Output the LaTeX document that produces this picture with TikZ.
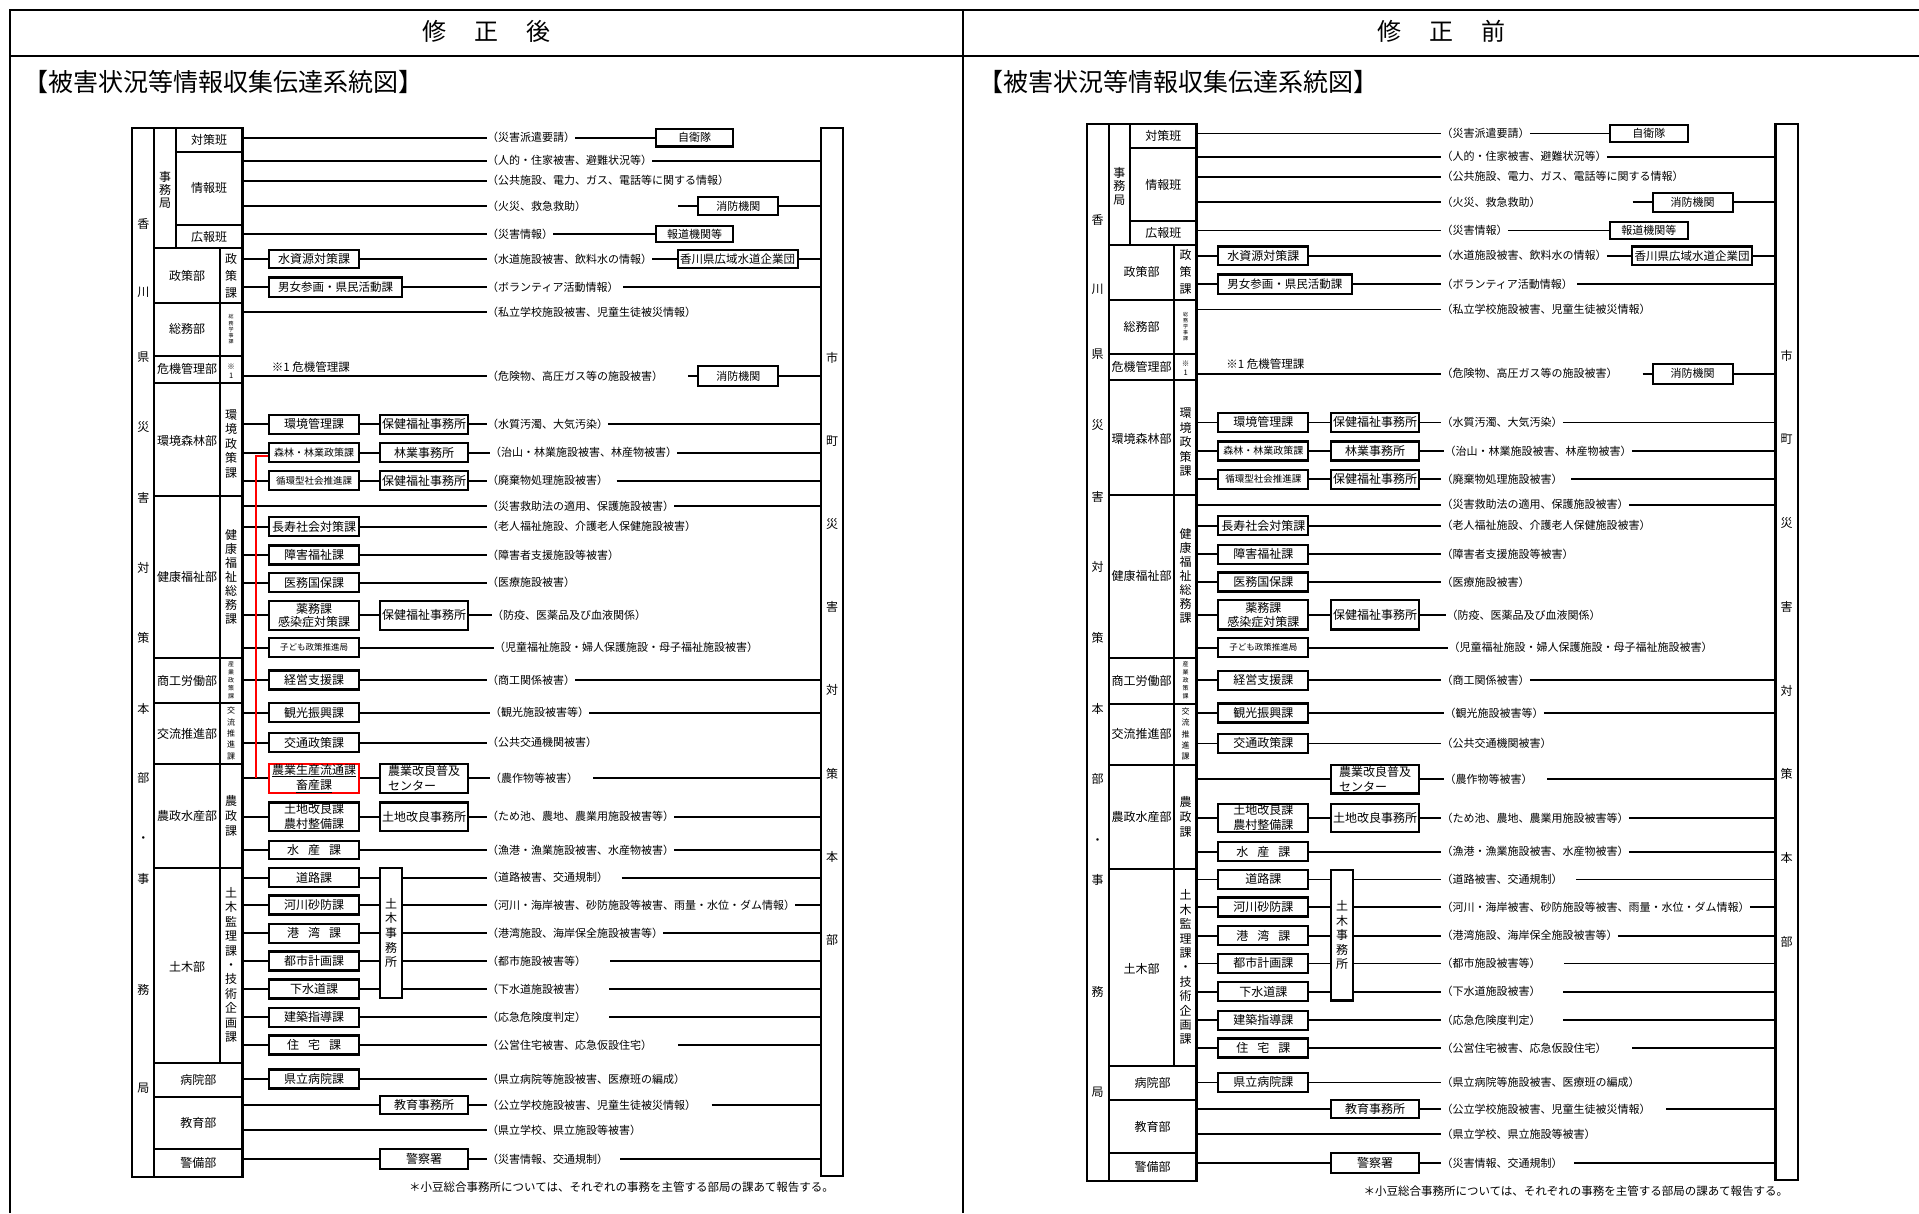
\documentclass[tikz,border=0pt]{standalone}
\usepackage{fontspec}
\setmainfont{Noto Sans CJK JP}
\newcommand\fs[1]{\fontsize{#1}{#1}\selectfont}
\newcommand\fss[2]{\fontsize{#1}{#2}\selectfont}
\def\vstEnd{}
\def\vstk#1{\vstA#1\vstEnd}
\def\vstA#1{#1\vstB}
\def\vstB#1{\ifx#1\vstEnd\else\\#1\expandafter\vstB\fi}
\tikzset{
 tb/.style={line width=2pt},
 busln/.style={line width=2.6pt},
 cn/.style={line width=1.8pt},
 bx/.style={draw, line width=2.2pt, fill=white, inner sep=0pt, align=center, font=\fs{12}},
 cA/.style={minimum width=90pt, minimum height=19pt},
 cB/.style={minimum width=88.3pt, minimum height=19pt},
 lb/.style={anchor=west, inner sep=0pt, font=\fs{11}},
 dp/.style={inner sep=0pt, font=\fs{12}},
 vt/.style={inner sep=0pt, align=center},
 redln/.style={draw=red, line width=1.8pt},
 frm/.style={line width=2pt},
}
\newcommand\drawpanel[4]{%
\def\cAx{#2}\def\cBx{#3}%
% ---- table
\draw[tb] (132.3,128.3) rectangle (242.3,1177.3);
\draw[tb] (154.3,128.3) -- (154.3,1177.3);
\draw[tb] (175.7,128.3) -- (175.7,248.3);
\draw[tb] (175.7,151.7) -- (242.3,151.7);
\draw[tb] (175.7,225) -- (242.3,225);
\foreach \yy in {248.3,302.7,356,382.7,496,657.7,703.3,764,867.7,1062.7,1096.7,1149.3}
  \draw[tb] (154.3,\yy) -- (242.3,\yy);
\draw[tb] (220,248.3) -- (220,1062.7);
\draw[busln] (242.3,127.3) -- (242.3,1178.3);
\foreach \ch/\yy [count=\k] in {香/224,川/292,県/357,災/427,害/498,対/568,策/638,本/708.5,部/778.4,・/840,事/878.5,務/989.5,局/1088.7}
  \node[dp] (hq\k) at (143.3,\yy) {\ch};
\node[vt, font=\fss{12}{13.3}] (jmk) at (165,190) {\vstk{事務局}};
\node[dp] (taisaku) at (209,140) {対策班};
\node[dp] (joho) at (209,188.3) {情報班};
\node[dp] (koho) at (209,236.7) {広報班};
\node[dp] (d1) at (187.2,275.5) {政策部};
\node[vt, font=\fss{12}{17}] (k1) at (231.2,275.5) {\vstk{政策課}};
\node[dp] (d2) at (187.2,329.3) {総務部};
\node[vt, font=\fss{5}{6.2}] (k2) at (231.2,329.3) {\vstk{総務学事課}};
\node[dp] (d3) at (187.2,369.3) {危機管理部};
\node[vt, font=\fss{7.5}{9}] (k3) at (231.2,371) {\vstk{※1}};
\node[dp] (d4) at (187.2,441) {環境森林部};
\node[vt, font=\fss{12}{14.5}] (k4) at (231.2,444) {\vstk{環境政策課}};
\node[dp] (d5) at (187.2,577) {健康福祉部};
\node[vt, font=\fss{12}{14}] (k5) at (231.2,577) {\vstk{健康福祉総務課}};
\node[dp] (d6) at (187.2,680.5) {商工労働部};
\node[vt, font=\fss{6}{8}] (k6) at (231.2,680.5) {\vstk{産業政策課}};
\node[dp] (d7) at (187.2,733.5) {交流推進部};
\node[vt, font=\fss{8}{11.3}] (k7) at (231.2,733.5) {\vstk{交流推進課}};
\node[dp] (d8) at (187.2,816) {農政水産部};
\node[vt, font=\fss{12}{15}] (k8) at (231.2,816) {\vstk{農政課}};
\node[dp] (d9) at (187.2,966.7) {土木部};
\node[vt, font=\fss{12}{14.4}] (k9) at (231.2,965) {\vstk{土木監理課・技術企画課}};
\node[dp] (d10) at (198.3,1080) {病院部};
\node[dp] (d11) at (198.3,1123) {教育部};
\node[dp] (d12) at (198.3,1163) {警備部};
% ---- 市町災害対策本部
\node[bx, minimum width=22.3pt, minimum height=#4pt] (shicho) at (832.2,652.2) {};
\foreach \ch [count=\k] in {市,町,災,害,対,策,本,部}
  \node[dp] (sc\k) at (832.2,{358+83.1*(\k-1)}) {\ch};
% ---- rows
% 1
\coordinate (b1) at (242.3,137.7);
\node[lb] (l1) at (487,137.7) {（災害派遣要請）};
\node[bx, minimum width=77.6pt, minimum height=17.7pt, font=\fs{11}] (jieitai) at (694.5,137.7) {自衛隊};
\draw[cn] (b1) -- (l1.west);
\draw[cn] (l1.east) -- (jieitai.west);
% 2
\coordinate (b2) at (242.3,160.7);
\node[lb] (l2) at (487,160.7) {（人的・住家被害、避難状況等）};
\draw[cn] (b2) -- (l2.west);
\draw[cn] (l2.east) -- (l2.east -| shicho.west);
% 3
\coordinate (b3) at (242.3,180.7);
\node[lb] (l3) at (487,180.7) {（公共施設、電力、ガス、電話等に関する情報）};
\draw[cn] (b3) -- (l3.west);
% 4
\coordinate (b4) at (242.3,206);
\node[lb] (l4) at (487,206) {（火災、救急救助）};
\coordinate (s4) at (678.3,206);
\node[bx, minimum width=80pt, minimum height=18.7pt, font=\fs{11}] (shobo1) at (738.3,206) {消防機関};
\draw[cn] (b4) -- (l4.west);
\draw[cn] (s4) -- (shobo1.west);
\draw[cn] (shobo1.east) -- (shobo1.east -| shicho.west);
% 5
\coordinate (b5) at (242.3,234);
\node[lb] (l5) at (487,234) {（災害情報）};
\node[bx, minimum width=77.6pt, minimum height=16.7pt, font=\fs{11}] (hodo) at (694.5,234) {報道機関等};
\draw[cn] (b5) -- (l5.west);
\draw[cn] (l5.east) -- (hodo.west);
% 6
\coordinate (b6) at (242.3,259);
\node[bx, cA, minimum height=18.3pt] (suishi) at (\cAx,259) {水資源対策課};
\node[lb] (l6) at (487,259) {（水道施設被害、飲料水の情報）};
\node[bx, minimum width=120pt, minimum height=18.6pt, font=\fs{11.5}] (kouiki) at (737.7,259) {香川県広域水道企業団};
\draw[cn] (b6) -- (suishi.west);
\draw[cn] (suishi.east) -- (l6.west);
\draw[cn] (l6.east) -- (kouiki.west);
\draw[cn] (kouiki.east) -- (kouiki.east -| shicho.west);
% 7
\coordinate (b7) at (242.3,287.3);
\node[bx, minimum width=133.3pt, minimum height=19.6pt, font=\fs{11.5}] (danjo) at ({\cAx+21.65},287.3) {男女参画・県民活動課};
\node[lb] (l7) at (487,287.3) {（ボランティア活動情報）};
\coordinate (c7) at (623,287.3);
\draw[cn] (b7) -- (danjo.west);
\draw[cn] (danjo.east) -- (l7.west);
\draw[cn] (c7) -- (c7 -| shicho.west);
% 8
\coordinate (b8) at (242.3,312.3);
\node[lb] (l8) at (487,312.3) {（私立学校施設被害、児童生徒被災情報）};
\draw[cn] (b8) -- (l8.west);
% 9 note
\node[anchor=west, inner sep=0pt, font=\fs{11.5}] (kikinote) at (271.7,366.7) {※1 危機管理課};
% 10
\coordinate (b10) at (242.3,376);
\node[lb] (l10) at (487,376) {（危険物、高圧ガス等の施設被害）};
\coordinate (s10) at (688.3,376);
\node[bx, minimum width=80pt, minimum height=20pt, font=\fs{11}] (shobo2) at (738.3,376) {消防機関};
\draw[cn] (b10) -- (l10.west);
\draw[cn] (s10) -- (shobo2.west);
\draw[cn] (shobo2.east) -- (shobo2.east -| shicho.west);
% 11
\coordinate (b11) at (242.3,424.3);
\node[bx, cA] (kankyo) at (\cAx,424.3) {環境管理課};
\node[bx, cB] (hoken1) at (\cBx,424.3) {保健福祉事務所};
\node[lb] (l11) at (487,424.3) {（水質汚濁、大気汚染）};
\draw[cn] (b11) -- (kankyo.west);
\draw[cn] (kankyo.east) -- (hoken1.west);
\draw[cn] (hoken1.east) -- (l11.west);
\draw[cn] (l11.east) -- (l11.east -| shicho.west);
% 12
\coordinate (b12) at (242.3,452.7);
\node[bx, cA, font=\fs{10}] (shinrin) at (\cAx,452.7) {森林・林業政策課};
\node[bx, cB] (ringyo) at (\cBx,452.7) {林業事務所};
\node[lb] (l12) at (490,452.7) {（治山・林業施設被害、林産物被害）};
\draw[cn] (b12) -- (shinrin.west);
\draw[cn] (shinrin.east) -- (ringyo.west);
\draw[cn] (ringyo.east) -- (l12.west);
\draw[cn] (l12.east) -- (l12.east -| shicho.west);
% 13
\coordinate (b13) at (242.3,480.7);
\node[bx, cA, font=\fs{9.5}] (junkan) at (\cAx,480.7) {循環型社会推進課};
\node[bx, cB] (hoken2) at (\cBx,480.7) {保健福祉事務所};
\node[lb] (l13) at (487,480.7) {（廃棄物処理施設被害）};
\coordinate (c13) at (616.7,480.7);
\draw[cn] (b13) -- (junkan.west);
\draw[cn] (junkan.east) -- (hoken2.west);
\draw[cn] (hoken2.east) -- (l13.west);
\draw[cn] (c13) -- (c13 -| shicho.west);
% 14
\coordinate (b14) at (242.3,506);
\node[lb] (l14) at (487,506) {（災害救助法の適用、保護施設被害）};
\draw[cn] (b14) -- (l14.west);
\draw[cn] (l14.east) -- (l14.east -| shicho.west);
% 15
\coordinate (b15) at (242.3,526.7);
\node[bx, cA] (choju) at (\cAx,526.7) {長寿社会対策課};
\node[lb] (l15) at (487,526.7) {（老人福祉施設、介護老人保健施設被害）};
\draw[cn] (b15) -- (choju.west);
\draw[cn] (choju.east) -- (l15.west);
% 16
\coordinate (b16) at (242.3,555);
\node[bx, cA] (shogai) at (\cAx,555) {障害福祉課};
\node[lb] (l16) at (487,555) {（障害者支援施設等被害）};
\draw[cn] (b16) -- (shogai.west);
\draw[cn] (shogai.east) -- (l16.west);
% 17
\coordinate (b17) at (242.3,582.7);
\node[bx, cA] (imu) at (\cAx,582.7) {医務国保課};
\node[lb] (l17) at (487,582.7) {（医療施設被害）};
\draw[cn] (b17) -- (imu.west);
\draw[cn] (imu.east) -- (l17.west);
% 18
\coordinate (b18) at (242.3,615.3);
\node[bx, cA, minimum height=29pt, font=\fss{12}{13.4}] (yakumu) at (\cAx,615.3) {薬務課\\感染症対策課};
\node[bx, cB, minimum height=29pt] (hoken3) at (\cBx,615.3) {保健福祉事務所};
\node[lb] (l18) at (492,615.3) {（防疫、医薬品及び血液関係）};
\draw[cn] (b18) -- (yakumu.west);
\draw[cn] (yakumu.east) -- (hoken3.west);
\draw[cn] (hoken3.east) -- (l18.west);
% 19
\coordinate (b19) at (242.3,647.7);
\node[bx, cA, font=\fs{8.5}] (kodomo) at (\cAx,647.7) {子ども政策推進局};
\node[lb] (l19) at (494,647.7) {（児童福祉施設・婦人保護施設・母子福祉施設被害）};
\draw[cn] (b19) -- (kodomo.west);
\draw[cn] (kodomo.east) -- (l19.west);
% 20
\coordinate (b20) at (242.3,680);
\node[bx, cA] (keiei) at (\cAx,680) {経営支援課};
\node[lb] (l20) at (487,680) {（商工関係被害）};
\draw[cn] (b20) -- (keiei.west);
\draw[cn] (keiei.east) -- (l20.west);
\draw[cn] (l20.east) -- (l20.east -| shicho.west);
% 21
\coordinate (b21) at (242.3,712.7);
\node[bx, cA] (kanko) at (\cAx,712.7) {観光振興課};
\node[lb] (l21) at (490,712.7) {（観光施設被害等）};
\draw[cn] (b21) -- (kanko.west);
\draw[cn] (kanko.east) -- (l21.west);
\draw[cn] (l21.east) -- (l21.east -| shicho.west);
% 22
\coordinate (b22) at (242.3,742.7);
\node[bx, cA] (kotsu) at (\cAx,742.7) {交通政策課};
\node[lb] (l22) at (487,742.7) {（公共交通機関被害）};
\draw[cn] (b22) -- (kotsu.west);
\draw[cn] (kotsu.east) -- (l22.west);
% 23
\coordinate (b23) at (242.3,778.3);
\node[bx, cB, minimum height=28.7pt, align=left, font=\fss{12}{14.3}] (fukyu) at (\cBx,778.3) {農業改良普及\\センター};
\node[lb] (l23) at (490,778.3) {（農作物等被害）};
\coordinate (c23) at (593,778.3);
\draw[cn] (fukyu.east) -- (l23.west);
\draw[cn] (c23) -- (c23 -| shicho.west);
\ifnum#1=1
\node[bx, cA, draw=red, line width=1.8pt, minimum height=29.3pt, font=\fss{12}{15.3}] (nosan) at (\cAx,778.3) {\underline{農業生産流通課}\\\underline{畜産課}};
\draw[cn] (b23) -- (nosan.west);
\draw[cn] (nosan.east) -- (fukyu.west);
\coordinate (redend) at (256,778.3);
\draw[redln] ([yshift=-3.3pt]shinrin.west) -| (redend);
\else
\draw[cn] (b23) -- (fukyu.west);
\fi
% 24
\coordinate (b24) at (242.3,816.7);
\node[bx, cA, minimum height=28.4pt, font=\fss{12}{15}] (tochi) at (\cAx,816.7) {土地改良課\\農村整備課};
\node[bx, cB, minimum height=28.4pt] (tochij) at (\cBx,816.7) {土地改良事務所};
\node[lb] (l24) at (487,816.7) {（ため池、農地、農業用施設被害等）};
\draw[cn] (b24) -- (tochi.west);
\draw[cn] (tochi.east) -- (tochij.west);
\draw[cn] (tochij.east) -- (l24.west);
\draw[cn] (l24.east) -- (l24.east -| shicho.west);
% 25
\coordinate (b25) at (242.3,850);
\node[bx, cA, minimum height=18.6pt] (suisan) at (\cAx,850) {水\hspace{9pt}産\hspace{9pt}課};
\node[lb] (l25) at (487,850) {（漁港・漁業施設被害、水産物被害）};
\draw[cn] (b25) -- (suisan.west);
\draw[cn] (suisan.east) -- (l25.west);
\draw[cn] (l25.east) -- (l25.east -| shicho.west);
% 26-30 土木
\node[bx, minimum width=22.3pt, minimum height=130.6pt, font=\fss{12}{14.6}] (doboku) at ({\cBx-33},933) {\vstk{土木事務所}};
\coordinate (b26) at (242.3,877.7);
\node[bx, cA] (doro) at (\cAx,877.7) {道路課};
\node[lb] (l26) at (487,877.7) {（道路被害、交通規制）};
\coordinate (c26) at (621.7,877.7);
\draw[cn] (b26) -- (doro.west);
\draw[cn] (doro.east) -- (doro.east -| doboku.west);
\draw[cn] (doro.east -| doboku.east) -- (l26.west);
\draw[cn] (c26) -- (c26 -| shicho.west);
\coordinate (b27) at (242.3,905);
\node[bx, cA] (kasen) at (\cAx,905) {河川砂防課};
\node[lb] (l27) at (487,905) {（河川・海岸被害、砂防施設等被害、雨量・水位・ダム情報）};
\draw[cn] (b27) -- (kasen.west);
\draw[cn] (kasen.east) -- (kasen.east -| doboku.west);
\draw[cn] (kasen.east -| doboku.east) -- (l27.west);
\draw[cn] (l27.east) -- (l27.east -| shicho.west);
\coordinate (b28) at (242.3,933.3);
\node[bx, cA] (kowan) at (\cAx,933.3) {港\hspace{9pt}湾\hspace{9pt}課};
\node[lb] (l28) at (487,933.3) {（港湾施設、海岸保全施設被害等）};
\draw[cn] (b28) -- (kowan.west);
\draw[cn] (kowan.east) -- (kowan.east -| doboku.west);
\draw[cn] (kowan.east -| doboku.east) -- (l28.west);
\draw[cn] (l28.east) -- (l28.east -| shicho.west);
\coordinate (b29) at (242.3,961);
\node[bx, cA] (toshi) at (\cAx,961) {都市計画課};
\node[lb] (l29) at (487,961) {（都市施設被害等）};
\coordinate (c29) at (610,961);
\draw[cn] (b29) -- (toshi.west);
\draw[cn] (toshi.east) -- (toshi.east -| doboku.west);
\draw[cn] (toshi.east -| doboku.east) -- (l29.west);
\draw[cn] (c29) -- (c29 -| shicho.west);
\coordinate (b30) at (242.3,989);
\node[bx, cA] (gesui) at (\cAx,989) {下水道課};
\node[lb] (l30) at (487,989) {（下水道施設被害）};
\coordinate (c30) at (609,989);
\draw[cn] (b30) -- (gesui.west);
\draw[cn] (gesui.east) -- (gesui.east -| doboku.west);
\draw[cn] (gesui.east -| doboku.east) -- (l30.west);
\draw[cn] (c30) -- (c30 -| shicho.west);
% 31
\coordinate (b31) at (242.3,1017.3);
\node[bx, cA] (kenchiku) at (\cAx,1017.3) {建築指導課};
\node[lb] (l31) at (487,1017.3) {（応急危険度判定）};
\coordinate (c31) at (609,1017.3);
\draw[cn] (b31) -- (kenchiku.west);
\draw[cn] (kenchiku.east) -- (l31.west);
\draw[cn] (c31) -- (c31 -| shicho.west);
% 32
\coordinate (b32) at (242.3,1045);
\node[bx, cA] (jutaku) at (\cAx,1045) {住\hspace{9pt}宅\hspace{9pt}課};
\node[lb] (l32) at (487,1045) {（公営住宅被害、応急仮設住宅）};
\coordinate (c32) at (678,1045);
\draw[cn] (b32) -- (jutaku.west);
\draw[cn] (jutaku.east) -- (l32.west);
\draw[cn] (c32) -- (c32 -| shicho.west);
% 33
\coordinate (b33) at (242.3,1079);
\node[bx, cA] (byoin) at (\cAx,1079) {県立病院課};
\node[lb] (l33) at (487,1079) {（県立病院等施設被害、医療班の編成）};
\draw[cn] (b33) -- (byoin.west);
\draw[cn] (byoin.east) -- (l33.west);
% 34
\coordinate (b34) at (242.3,1105.3);
\node[bx, cB, minimum height=18pt] (kyoiku) at (\cBx,1105.3) {教育事務所};
\node[lb] (l34) at (487,1105.3) {（公立学校施設被害、児童生徒被災情報）};
\coordinate (c34) at (711.7,1105.3);
\draw[cn] (b34) -- (kyoiku.west);
\draw[cn] (kyoiku.east) -- (l34.west);
\draw[cn] (c34) -- (c34 -| shicho.west);
% 35
\coordinate (b35) at (242.3,1130.3);
\node[lb] (l35) at (487,1130.3) {（県立学校、県立施設等被害）};
\draw[cn] (b35) -- (l35.west);
% 36
\coordinate (b36) at (242.3,1159);
\node[bx, cB, minimum height=19.3pt] (keisatsu) at (\cBx,1159) {警察署};
\node[lb] (l36) at (487,1159) {（災害情報、交通規制）};
\coordinate (c36) at (620,1159);
\draw[cn] (b36) -- (keisatsu.west);
\draw[cn] (keisatsu.east) -- (l36.west);
\draw[cn] (c36) -- (c36 -| shicho.west);
% footnote
\node[anchor=east, inner sep=0pt, font=\fs{11.5}] (fnote) at (834,1187) {＊小豆総合事務所については、それぞれの事務を主管する部局の課あて報告する。};
}
\begin{document}
\begin{tikzpicture}[x=1pt,y=-1pt]
\useasboundingbox (0,0) rectangle (1919,1213);
\draw[frm] (10,1213) -- (10,10) -- (1919,10);
\draw[frm] (10,56) -- (1919,56);
\draw[frm] (963,10) -- (963,1213);
\node[font=\fs{24}] (tA) at (486.5,31) {修\hspace{28pt}正\hspace{28pt}後};
\node[font=\fs{25}, anchor=west, inner sep=0pt] (tB) at (23,82) {【被害状況等情報収集伝達系統図】};
\node[font=\fs{24}] (tC) at (1441,31) {修\hspace{28pt}正\hspace{28pt}前};
\node[font=\fs{25}, anchor=west, inner sep=0pt] (tD) at (978,82) {【被害状況等情報収集伝達系統図】};
\begin{scope}[name prefix=L-]
\drawpanel{1}{314}{424.2}{1047.7}
\end{scope}
\begin{scope}[name prefix=R-, xshift=954.4pt, yshift=5.33pt, yscale=1.008]
\drawpanel{0}{308.9}{420.6}{1056}
\end{scope}
\end{tikzpicture}
\end{document}
